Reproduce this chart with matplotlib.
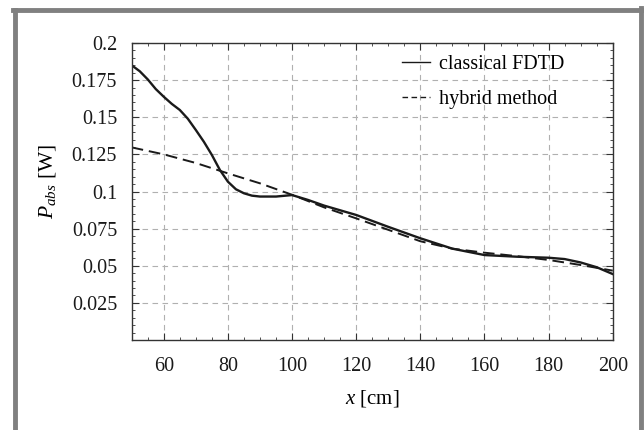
import matplotlib
matplotlib.use("Agg")
import matplotlib.pyplot as plt
from matplotlib.lines import Line2D
from matplotlib.ticker import MultipleLocator

plt.rcParams['font.family'] = ['Liberation Serif', 'DejaVu Serif']
plt.rcParams['mathtext.fontset'] = 'custom'
plt.rcParams['mathtext.rm'] = 'Liberation Serif'
plt.rcParams['mathtext.it'] = 'Liberation Serif:italic'

x_fdtd = [50, 52.5, 55, 57.5, 60, 62.5, 65, 67.5, 70, 72.5, 75, 77.5, 80, 82.5, 85, 87.5, 90, 95, 100,
          105, 110, 120, 130, 140, 150, 160, 170, 180, 185, 190, 195, 200]
p_fdtd = [0.185, 0.181, 0.1755, 0.169, 0.1638, 0.159, 0.1549, 0.149, 0.1414, 0.1335, 0.1246, 0.1145, 0.1066,
          0.1015, 0.0988, 0.0972, 0.0966, 0.0966, 0.0976,
          0.0943, 0.0905, 0.0842, 0.0762, 0.0685, 0.0615, 0.0572, 0.0561, 0.0554, 0.0545, 0.0522, 0.049, 0.0444]

x_hyb = [50, 60, 70, 80, 90, 100, 110, 120, 130, 140, 150, 160, 170, 180, 190, 200]
p_hyb = [0.1297, 0.125, 0.1192, 0.1122, 0.1055, 0.0978, 0.0893, 0.0819, 0.0742, 0.0665, 0.0615, 0.0588,
         0.0565, 0.0539, 0.0505, 0.0467]

series_labels = ['classical FDTD', 'hybrid method']

fig = plt.figure(figsize=(6.44, 4.30), dpi=100)
ax = fig.add_axes([0.2045, 0.2093, 0.747, 0.6907])

ax.plot(x_fdtd, p_fdtd, color='#1a1a1a', lw=1.7, ls='-')
ax.plot(x_hyb, p_hyb, color='#1a1a1a', lw=1.4, ls=(0, (6, 3)))

ax.set_xlim(50, 200)
ax.set_ylim(0, 0.2)
ax.set_xticks([60, 80, 100, 120, 140, 160, 180, 200])
ax.set_xticklabels(['60', '80', '100', '120', '140', '160', '180', '200'])
ax.set_yticks([0.025, 0.05, 0.075, 0.1, 0.125, 0.15, 0.175, 0.2])
ax.set_yticklabels(['0.025', '0.05', '0.075', '0.1', '0.125', '0.15', '0.175', '0.2'])
ax.xaxis.set_minor_locator(MultipleLocator(5))
ax.yaxis.set_minor_locator(MultipleLocator(0.005))
ax.tick_params(which='both', direction='in', top=True, right=True, colors='#333333', labelcolor='#1a1a1a')
ax.tick_params(which='major', length=5, width=0.8, labelsize=14.5)
ax.tick_params(which='minor', length=2.5, width=0.6)
ax.tick_params(axis='x', which='major', pad=12)
ax.tick_params(axis='y', which='major', pad=10.5)
ax.grid(True, which='major', color='#b0b0b0', ls=(0, (5, 4)), lw=0.8)
for s in ax.spines.values():
    s.set_color('#333333')
    s.set_linewidth(1.0)

ax.set_xlabel(r'$x$ [cm]', fontsize=15, labelpad=9)
ax.set_ylabel(r'$P_{abs}$ [W]', fontsize=15.5)
ax.yaxis.set_label_coords(-0.153, 0.532)

handles = [Line2D([], [], color='#1a1a1a', lw=1.0, ls='-'),
           Line2D([], [], color='#1a1a1a', lw=1.0, ls=(0, (4, 2.5)))]
leg = ax.legend(handles, series_labels, loc='upper left', frameon=False, fontsize=14.5,
                handlelength=1.4, handletextpad=0.45, labelspacing=0.78,
                bbox_to_anchor=(0.524, 1.02))

# gray outer frame (open at the bottom)
fc = '#808080'
fig.add_artist(Line2D([15 / 644, 15 / 644], [0, 1 - 10 / 430], transform=fig.transFigure, color=fc, lw=3.5))
fig.add_artist(Line2D([13 / 644, 643 / 644], [1 - 10 / 430, 1 - 10 / 430], transform=fig.transFigure, color=fc, lw=3.5))
fig.add_artist(Line2D([641 / 644, 641 / 644], [0, 1 - 8 / 430], transform=fig.transFigure, color=fc, lw=3.5))

fig.savefig('out.png', dpi=100)
